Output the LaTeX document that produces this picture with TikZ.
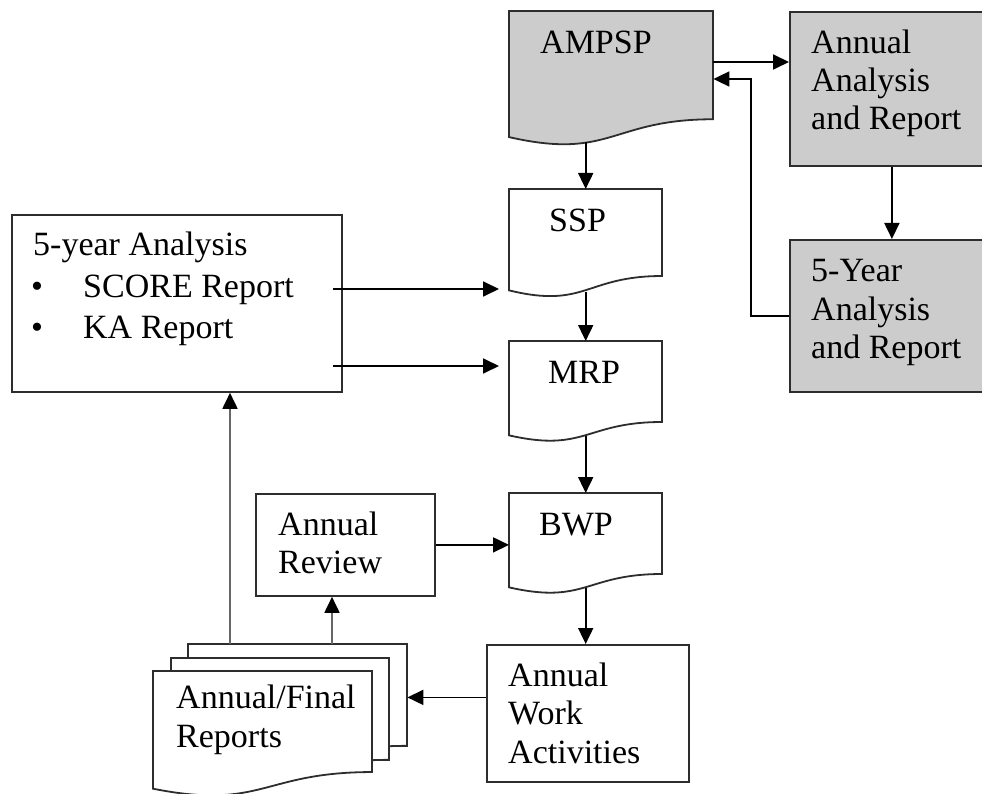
\documentclass[tikz,border=0pt]{standalone}
\usepackage{fontspec}
\setmainfont{Liberation Serif}
\usetikzlibrary{arrows.meta}
\definecolor{boxgray}{RGB}{204,204,204}
\definecolor{edgecol}{RGB}{45,45,45}
\tikzset{
  box/.style={draw=edgecol, line width=1.8pt, fill=white, inner sep=0pt, anchor=north west},
  docarea/.style={inner sep=0pt, anchor=north west},
  docline/.style={draw=edgecol, line width=1.8pt},
  lbl/.style={anchor=base west, inner sep=0pt, font=\fontsize{34}{38}\selectfont},
  arr/.style={draw=black, line width=1.8pt, -{Triangle[length=16pt,width=15pt]}},
  garr/.style={draw=black!60, line width=1.8pt, -{Triangle[length=16pt,width=15pt,color=black]}},
}
\newcommand\docshape[6]{%
  \node[docarea, minimum width=#4pt, minimum height=#5pt] (#1) at (#2,#3) {};
  \path[docline, fill=#6] (#2,#3) -- ({#2+#4},#3) -- ({#2+#4},{#3+0.802*#5})
    .. controls ({#2+0.5*#4},{#3+0.802*#5}) and ({#2+0.5*#4},{#3+1.107*#5}) .. (#2,{#3+0.934*#5}) -- cycle;
}
\begin{document}
\begin{tikzpicture}[x=1pt,y=-1pt]
\path[use as bounding box, clip] (0,0) rectangle (982,794);

% gray boxes (right)
\node[box, fill=boxgray, minimum width=204pt, minimum height=154pt] (aar) at (789,11) {};
\node[box, fill=boxgray, minimum width=204pt, minimum height=152pt] (fivey) at (789,239) {};

% document shapes
\docshape{ampsp}{509}{11}{204}{135}{boxgray}
\docshape{ssp}{509}{189}{153}{108.5}{white}
\docshape{mrp}{509}{341}{153}{101}{white}
\docshape{bwp}{509}{493}{153}{101}{white}

% left boxes
\node[box, minimum width=330pt, minimum height=177pt] (ana5) at (11,214) {};
\node[box, minimum width=179pt, minimum height=102pt] (review) at (255,493) {};
\node[box, minimum width=202pt, minimum height=137pt] (awa) at (486,644) {};

% stacked reports
\docshape{rep3}{188}{644}{219}{127}{white}
\docshape{rep2}{171}{658}{218}{127}{white}
\docshape{rep1}{153}{671}{219}{126}{white}

% texts
\node[lbl] (t-ampsp) at (540,54) {AMPSP};
\node[lbl] (t-aar1) at (811,54) {Annual};
\node[lbl] (t-aar2) at (811,92) {Analysis};
\node[lbl] (t-aar3) at (811,130) {and Report};
\node[lbl] (t-fy1) at (811,282) {5-Year};
\node[lbl] (t-fy2) at (811,320) {Analysis};
\node[lbl] (t-fy3) at (811,358) {and Report};
\node[lbl] (t-ssp) at (549,232) {SSP};
\node[lbl] (t-mrp) at (548,383) {MRP};
\node[lbl] (t-bwp) at (539,535) {BWP};
\node[lbl] (t-a51) at (33,255) {5-year Analysis};
\node[lbl] (t-b1) at (31,298) {•};
\node[lbl] (t-a52) at (83,298) {SCORE Report};
\node[lbl] (t-b2) at (31,338) {•};
\node[lbl] (t-a53) at (83,338) {KA Report};
\node[lbl] (t-rv1) at (278,535) {Annual};
\node[lbl] (t-rv2) at (278,573) {Review};
\node[lbl] (t-rp1) at (176,708) {Annual/Final};
\node[lbl] (t-rp2) at (176,747) {Reports};
\node[lbl] (t-aw1) at (508,686) {Annual};
\node[lbl] (t-aw2) at (508,724) {Work};
\node[lbl] (t-aw3) at (508,763) {Activities};

% connectors
\draw[arr] ([yshift=-51pt]ampsp.north east) -- ([yshift=-51pt]ampsp.north east -| aar.west);
\draw[arr] (fivey.west) -- ++(-38,0) |- ([yshift=-68pt]ampsp.north east);
\draw[arr] (aar.south) -- (fivey.north);
\draw[arr] ([yshift=4pt]ampsp.south -| ssp.north) -- (ssp.north);
\draw[arr] ([yshift=6pt]ssp.south) -- (mrp.north);
\draw[arr] ([yshift=6pt]mrp.south) -- (bwp.north);
\draw[arr] ([yshift=6pt]bwp.south) -- (bwp.south |- awa.north);
\draw[arr] ([shift={(-10pt,-75pt)}]ana5.north east) -- ([shift={(-10pt,-75pt)}]ana5.north east -| ssp.west);
\draw[arr] ([shift={(-10pt,-152pt)}]ana5.north east) -- ([shift={(-10pt,-152pt)}]ana5.north east -| mrp.west);
\draw[arr] (review.east) -- (review.east -| bwp.west);
\draw[arr] ([yshift=16pt]awa.west) -- ([yshift=16pt]awa.west -| rep3.east);
\draw[garr] ([xshift=42pt]rep3.north west) -- ([xshift=42pt]rep3.north west |- ana5.south);
\draw[garr] ([xshift=144pt]rep3.north west) -- ([xshift=144pt]rep3.north west |- review.south);
\end{tikzpicture}
\end{document}
